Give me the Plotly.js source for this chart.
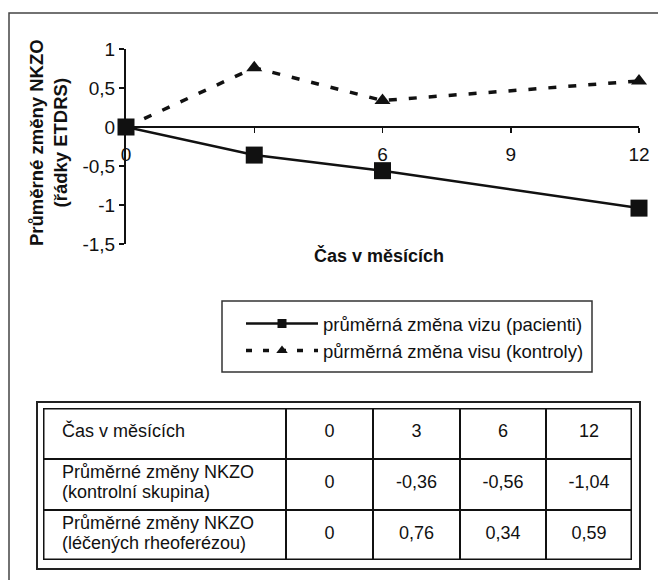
<!DOCTYPE html>
<html>
<head>
<meta charset="utf-8">
<script src="https://cdn.plot.ly/plotly-3.0.1.min.js"></script>
<style>html,body{margin:0;padding:0;background:#fff;}#chart{width:658px;height:580px;}</style>
</head>
<body>
<div id="chart"></div>
<script>
// ---- data ----
const months = [0, 3, 6, 12];
const patients = [0, -0.36, -0.56, -1.04];
const controls = [0, 0.76, 0.34, 0.59];
const seriesNames = ['průměrná změna vizu (pacienti)', 'půrměrná změna visu (kontroly)'];
const xTickVals = [0, 3, 6, 9, 12];
const yTickVals = [-1.5, -1, -0.5, 0, 0.5, 1];
const yTickText = ['-1,5', '-1', '-0,5', '0', '0,5', '1'];
const tableHeaderLabel = ['Čas v měsících'];
const tableRowLabels = [
  ['Průměrné změny NKZO', '(kontrolní skupina)'],
  ['Průměrné změny NKZO', '(léčených rheoferézou)']
];
const xTitle = 'Čas v měsících';
const yTitle = ['Průměrné změny NKZO', '(řádky ETDRS)'];

// ---- layout helpers ----
const W = 658, H = 580;
const px = x => x / W;
const py = y => 1 - y / H;
const FONT = 'Liberation Sans, Arial, Helvetica, sans-serif';
const fmt = v => String(v).replace('.', ',');

// table geometry (pixels)
const colEdges = [43, 286, 373, 460, 546, 632];
const rowEdges = [408, 459, 510, 560];
const colCenter = i => (colEdges[i] + colEdges[i + 1]) / 2;
const rowCenter = j => (rowEdges[j] + rowEdges[j + 1]) / 2;
const LINE_GAP = 20;

// table text from data
const tx = [], ty = [], tt = [], tp = [];
const tableRows = [
  [tableHeaderLabel].concat(months.map(fmt)),
  [tableRowLabels[0]].concat(patients.map(fmt)),
  [tableRowLabels[1]].concat(controls.map(fmt))
];
tableRows.forEach((row, j) => {
  row.forEach((cell, i) => {
    if (i === 0) {
      const n = cell.length;
      cell.forEach((line, k) => {
        tx.push(colEdges[0] + 19);
        ty.push(rowCenter(j) - 1 + (k - (n - 1) / 2) * LINE_GAP);
        tt.push(line);
        tp.push('middle right');
      });
    } else {
      tx.push(colCenter(i));
      ty.push(rowCenter(j) - 1);
      tt.push(cell);
      tp.push('middle center');
    }
  });
});

const traces = [
  {
    x: months, y: controls, mode: 'lines+markers', showlegend: false,
    line: {color: '#111', width: 3.5, dash: '8px,12px'},
    marker: {symbol: 'triangle-up', size: 14, color: '#111'},
    xaxis: 'x', yaxis: 'y', cliponaxis: false
  },
  {
    x: months, y: patients, mode: 'lines+markers', showlegend: false,
    line: {color: '#111', width: 2.5},
    marker: {symbol: 'square', size: 17, color: '#111'},
    xaxis: 'x', yaxis: 'y', cliponaxis: false
  },
  // legend entries
  {
    x: [null], y: [null], mode: 'lines+markers', name: seriesNames[0], legendgroup: 'a',
    line: {color: '#111', width: 2.5}, marker: {symbol: 'square', size: 9, color: '#111'}
  },
  {
    x: [null], y: [null], mode: 'lines+markers', name: seriesNames[1], legendgroup: 'b',
    line: {color: '#111', width: 3.5, dash: '6px,11px'}, marker: {symbol: 'triangle-up', size: 10, color: '#111'}
  },
  // table text
  {
    x: tx, y: ty, text: tt, textposition: tp, mode: 'text', showlegend: false,
    textfont: {family: FONT, size: 18, color: '#111'},
    xaxis: 'x2', yaxis: 'y2', hoverinfo: 'skip', cliponaxis: false
  }
];

const shapes = [];
// outer frame (left & top only visible)
shapes.push({type: 'rect', xref: 'paper', yref: 'paper', x0: px(9), x1: px(700), y0: py(640), y1: py(13),
  line: {color: '#444', width: 1.5}});
// legend box
shapes.push({type: 'rect', xref: 'paper', yref: 'paper', x0: px(222), x1: px(592), y0: py(372), y1: py(301),
  line: {color: '#333', width: 1.5}});
// table double border
shapes.push({type: 'rect', xref: 'paper', yref: 'paper', x0: px(37), x1: px(640), y0: py(569), y1: py(402),
  line: {color: '#222', width: 2}});
shapes.push({type: 'rect', xref: 'x2', yref: 'y2', x0: colEdges[0], x1: colEdges[5], y0: rowEdges[0], y1: rowEdges[3],
  line: {color: '#111', width: 3}});
for (let i = 1; i < colEdges.length - 1; i++) {
  shapes.push({type: 'line', xref: 'x2', yref: 'y2', x0: colEdges[i], x1: colEdges[i], y0: rowEdges[0], y1: rowEdges[3],
    line: {color: '#111', width: 2}});
}
for (let j = 1; j < rowEdges.length - 1; j++) {
  shapes.push({type: 'line', xref: 'x2', yref: 'y2', x0: colEdges[0], x1: colEdges[5], y0: rowEdges[j], y1: rowEdges[j],
    line: {color: '#111', width: 2}});
}

const layout = {
  width: W, height: H,
  margin: {l: 0, r: 0, t: 0, b: 0},
  paper_bgcolor: '#fff', plot_bgcolor: 'rgba(0,0,0,0)',
  font: {family: FONT, color: '#111'},
  separators: ', ',
  showlegend: true,
  xaxis: {
    domain: [px(126), px(639)], range: [0, 12], tickvals: xTickVals,
    anchor: 'free', position: py(127),
    showline: true, linecolor: '#111', linewidth: 2,
    ticks: 'outside', ticklen: 5, tickwidth: 1.5, tickcolor: '#111',
    showgrid: false, zeroline: false, layer: 'below traces',
    tickfont: {size: 19, color: '#111'}, ticklabelstandoff: 5, fixedrange: true
  },
  yaxis: {
    domain: [py(244), py(49)], range: [-1.5, 1], tickvals: yTickVals, ticktext: yTickText,
    anchor: 'x',
    showline: true, linecolor: '#111', linewidth: 2,
    ticks: 'outside', ticklen: 5, tickwidth: 1.5, tickcolor: '#111',
    showgrid: false, zeroline: false, layer: 'below traces',
    tickfont: {size: 19, color: '#111'}, fixedrange: true
  },
  xaxis2: {domain: [px(colEdges[0]), px(colEdges[5])], range: [colEdges[0], colEdges[5]], visible: false, anchor: 'y2', fixedrange: true},
  yaxis2: {domain: [py(rowEdges[3]), py(rowEdges[0])], range: [rowEdges[3], rowEdges[0]], visible: false, anchor: 'x2', fixedrange: true},
  legend: {
    x: px(241), y: py(305), xanchor: 'left', yanchor: 'top',
    bgcolor: 'rgba(0,0,0,0)', borderwidth: 0,
    font: {family: FONT, size: 18.5, color: '#111'},
    itemwidth: 72, tracegroupgap: 7, traceorder: 'normal'
  },
  annotations: [
    {text: xTitle, xref: 'paper', yref: 'paper', x: px(379), y: py(255), showarrow: false,
      font: {family: FONT, size: 18, color: '#111', weight: 'bold'}, xanchor: 'center', yanchor: 'middle'},
    {text: '<b>' + yTitle.join('</b><br><b>') + '</b>', xref: 'paper', yref: 'paper', x: px(48), y: py(143), showarrow: false,
      textangle: -90, font: {family: FONT, size: 18.5, color: '#111'}, xanchor: 'center', yanchor: 'middle'}
  ],
  shapes: shapes
};

Plotly.newPlot('chart', traces, layout, {displayModeBar: false, staticPlot: true});
</script>
</body>
</html>
